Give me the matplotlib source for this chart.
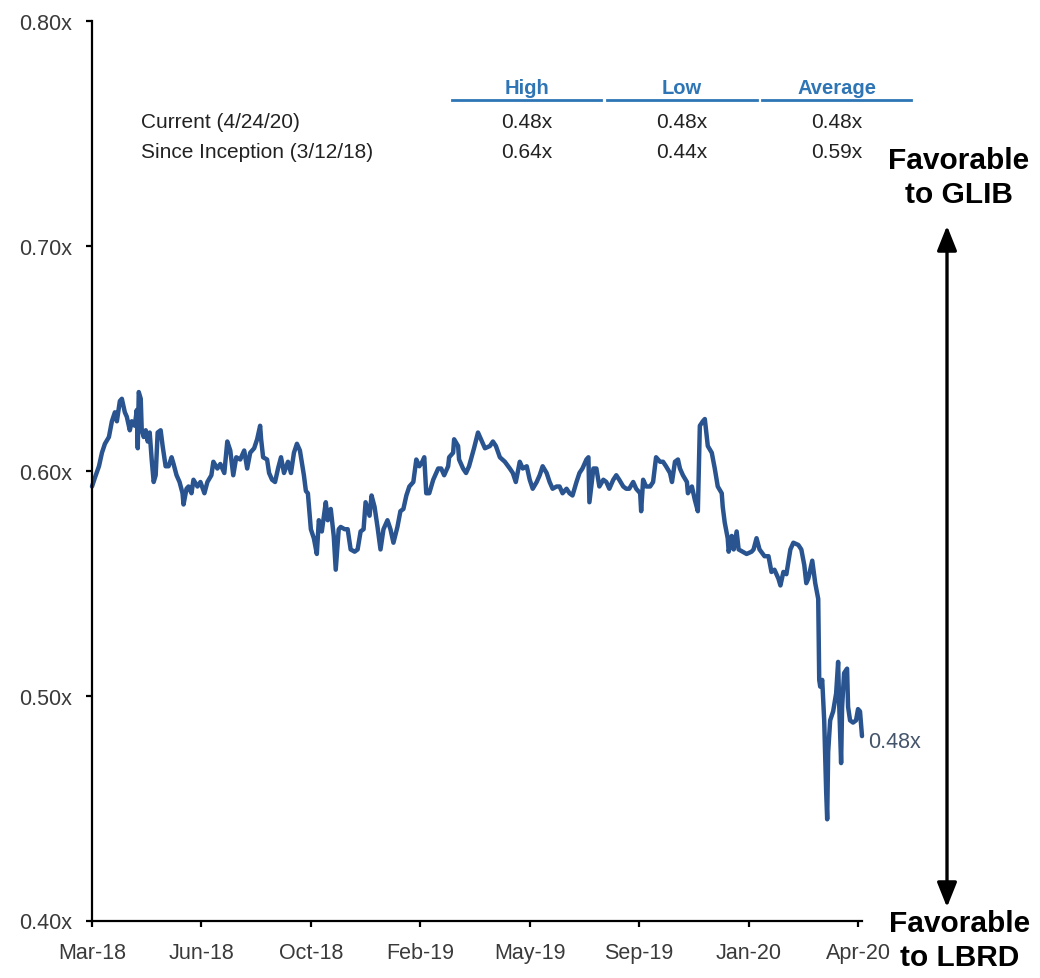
import matplotlib
matplotlib.use('Agg')
import matplotlib.pyplot as plt
from matplotlib.lines import Line2D
from matplotlib.patches import FancyArrowPatch
from matplotlib.ticker import FixedLocator, FixedFormatter
import pandas as pd

# ---------------- data ----------------
start_date = '2018-03-12'
end_date = '2020-04-24'

day_offset = [
    0, 3, 7, 10, 13, 17, 20, 23, 25, 28, 30, 33, 35, 38, 40, 43, 45, 46, 47, 49,
    50, 52, 54, 56, 58, 60, 62, 64, 66, 69, 71, 74, 77, 80, 82, 85, 88, 91, 92, 95,
    97, 100, 102, 106, 109, 113, 116, 120, 122, 126, 129, 133, 136, 139, 142, 145, 149, 153, 156, 159,
    163, 166,
    169, 170, 172, 176, 178, 181, 184, 187, 190, 193, 197, 200, 203, 206, 209, 213, 215, 217, 220, 223,
    226, 228, 231, 235, 237, 240, 243, 245, 248, 250, 254, 257, 260, 264, 267, 270, 273, 275, 279, 281,
    284, 287, 290, 293, 297, 300, 303, 307, 310, 313, 316, 319, 323, 326, 329, 332,
    334, 336, 339, 343, 348, 351, 354, 358, 359, 363, 364, 368, 369, 373, 376, 379, 384, 388, 391, 395,
    400, 403, 406, 410, 415, 420, 423, 426, 430, 433, 437, 440, 443, 447, 450, 453, 457, 460, 463, 467,
    470, 473, 477, 480, 483, 487, 490, 493, 497, 499, 500, 504, 507, 510, 514, 517, 520, 524, 527, 530,
    534, 537, 540, 544, 547, 551, 552, 554, 557, 561, 564, 567, 571, 574, 577, 581, 583, 586, 589, 591,
    594, 598, 599, 603, 606, 609, 611, 614, 616, 619, 623, 626, 629, 633, 634, 636, 639, 640, 643, 645,
    648, 650, 654, 658, 663,
    665, 668, 671, 676, 680, 683, 686, 690, 692, 695, 698, 702, 705, 710, 713, 716, 718, 720, 722, 724,
    727, 730, 731, 732, 734, 736, 738, 739, 740, 742, 745, 748, 750, 751, 753, 754, 756, 759, 760, 762,
    765, 768, 770, 772, 774,
]

ratio = [
    0.593, 0.597, 0.602, 0.608, 0.612, 0.615, 0.622, 0.626, 0.622, 0.631, 0.632, 0.626, 0.624, 0.618, 0.622, 0.620, 0.627, 0.610, 0.635, 0.632,
    0.618, 0.615, 0.618, 0.613, 0.617, 0.605, 0.595, 0.598, 0.617, 0.618, 0.611, 0.602, 0.602, 0.606, 0.603, 0.598, 0.595, 0.590, 0.585, 0.592,
    0.593, 0.590, 0.596, 0.593, 0.595, 0.590, 0.595, 0.598, 0.604, 0.601, 0.603, 0.599, 0.613, 0.609, 0.598, 0.606, 0.605, 0.609, 0.601, 0.608,
    0.610, 0.614,
    0.620, 0.614, 0.606, 0.605, 0.599, 0.596, 0.595, 0.601, 0.606, 0.599, 0.604, 0.599, 0.608, 0.612, 0.609, 0.598, 0.591, 0.590, 0.574, 0.570,
    0.563, 0.578, 0.573, 0.586, 0.578, 0.583, 0.571, 0.556, 0.574, 0.575, 0.574, 0.574, 0.565, 0.564, 0.565, 0.573, 0.574, 0.586, 0.580, 0.589,
    0.584, 0.575, 0.565, 0.574, 0.578, 0.574, 0.568, 0.575, 0.582, 0.583, 0.589, 0.593, 0.595, 0.605, 0.602, 0.604,
    0.606, 0.590, 0.590, 0.596, 0.601, 0.601, 0.598, 0.602, 0.606, 0.608, 0.614, 0.611, 0.605, 0.601, 0.599, 0.602, 0.610, 0.617, 0.614, 0.610,
    0.611, 0.613, 0.611, 0.606, 0.604, 0.601, 0.599, 0.595, 0.604, 0.601, 0.602, 0.596, 0.592, 0.595, 0.598, 0.602, 0.599, 0.595, 0.592, 0.593,
    0.593, 0.590, 0.592, 0.590, 0.589, 0.595, 0.599, 0.601, 0.605, 0.606, 0.586, 0.601, 0.601, 0.593, 0.596, 0.595, 0.592, 0.596, 0.598, 0.596,
    0.593, 0.592, 0.592, 0.595, 0.592, 0.590, 0.582, 0.596, 0.593, 0.593, 0.595, 0.606, 0.604, 0.604, 0.602, 0.599, 0.595, 0.604, 0.605, 0.601,
    0.598, 0.595, 0.590, 0.593, 0.587, 0.582, 0.620, 0.622, 0.623, 0.611, 0.608, 0.601, 0.593, 0.590, 0.584, 0.577, 0.570, 0.564, 0.571, 0.565,
    0.573, 0.565, 0.564, 0.563, 0.564,
    0.565, 0.570, 0.565, 0.562, 0.562, 0.555, 0.556, 0.552, 0.549, 0.555, 0.554, 0.565, 0.568, 0.567, 0.565, 0.558, 0.550, 0.552, 0.556, 0.560,
    0.550, 0.543, 0.507, 0.504, 0.507, 0.489, 0.457, 0.445, 0.475, 0.489, 0.493, 0.501, 0.515, 0.497, 0.470, 0.495, 0.510, 0.512, 0.495, 0.489,
    0.488, 0.489, 0.494, 0.493, 0.482,
]

y_ticks = [0.40, 0.50, 0.60, 0.70, 0.80]
y_tick_labels = ['0.40x', '0.50x', '0.60x', '0.70x', '0.80x']
x_tick_dates = ['2018-03-12', '2018-06-30', '2018-10-18', '2019-02-05',
                '2019-05-26', '2019-09-13', '2020-01-01', '2020-04-20']
x_tick_labels = ['Mar-18', 'Jun-18', 'Oct-18', 'Feb-19', 'May-19', 'Sep-19', 'Jan-20', 'Apr-20']

table_columns = ['High', 'Low', 'Average']
table_rows = ['Current (4/24/20)', 'Since Inception (3/12/18)']
table_values = [['0.48x', '0.48x', '0.48x'],
                ['0.64x', '0.44x', '0.59x']]
current_label = '0.48x'
top_label = 'Favorable\nto GLIB'
bottom_label = 'Favorable\nto LBRD'

# ---------------- style ----------------
plt.rcParams['font.family'] = ['Liberation Sans', 'DejaVu Sans']
LINE_COLOR = '#29548F'
HEAD_COLOR = '#2E75B6'
TEXT_COLOR = '#3a3a3a'

W, H = 1040, 979
fig = plt.figure(figsize=(W / 100, H / 100), dpi=100)


def fx(x):
    return x / W


def fy(y):
    return 1 - y / H


ax = fig.add_axes([fx(92), fy(921.5), fx(862) - fx(92), fy(22) - fy(921.5)])

dates = pd.Timestamp(start_date) + pd.to_timedelta(day_offset, unit='D')
ax.plot(dates, ratio, color=LINE_COLOR, lw=3.2, solid_joinstyle='round',
        solid_capstyle='round', clip_on=False)

ax.set_xlim(pd.Timestamp(start_date), pd.Timestamp(end_date))
ax.set_ylim(y_ticks[0], y_ticks[-1])

ax.yaxis.set_major_locator(FixedLocator(y_ticks))
ax.yaxis.set_major_formatter(FixedFormatter(y_tick_labels))
ax.set_xticks(pd.to_datetime(x_tick_dates))
ax.set_xticklabels(x_tick_labels)

for s in ['top', 'right']:
    ax.spines[s].set_visible(False)
for s in ['left', 'bottom']:
    ax.spines[s].set_linewidth(1.6)
    ax.spines[s].set_color('black')

ax.tick_params(axis='both', direction='out', length=4.5, width=1.6, colors='black',
               labelsize=15.5, labelcolor=TEXT_COLOR)
ax.tick_params(axis='y', pad=10)
ax.tick_params(axis='x', pad=11)

# end label
fig.text(fx(868), fy(743), current_label, ha='left', va='center', fontsize=15.5, color='#44546A')

# summary table
col_centers = [527, 682, 837]
col_lines = [(452, 601), (607, 757), (762, 911)]
for name, cx, (x0, x1) in zip(table_columns, col_centers, col_lines):
    fig.text(fx(cx), fy(88), name, ha='center', va='center', fontsize=14.5,
             fontweight='bold', color=HEAD_COLOR)
    fig.add_artist(Line2D([fx(x0), fx(x1)], [fy(101), fy(101)], transform=fig.transFigure,
                          color=HEAD_COLOR, lw=2))
row_y = [122, 152]
for rname, ry, vals in zip(table_rows, row_y, table_values):
    fig.text(fx(141), fy(ry), rname, ha='left', va='center', fontsize=15, color='#222222')
    for v, cx in zip(vals, col_centers):
        fig.text(fx(cx), fy(ry), v, ha='center', va='center', fontsize=15, color='#222222')

# favorability arrow and labels
fig.add_artist(FancyArrowPatch((fx(947), fy(911)), (fx(947), fy(224)), transform=fig.transFigure,
                               arrowstyle='<|-|>,head_length=0.75,head_width=0.3',
                               mutation_scale=20, lw=2.4, color='black'))
fig.text(fx(959), fy(178), top_label, ha='center', va='center', fontsize=21.5,
         fontweight='bold', color='black', linespacing=1.28)
fig.text(fx(960), fy(941), bottom_label, ha='center', va='center', fontsize=21.5,
         fontweight='bold', color='black', linespacing=1.28)

fig.savefig('out.png', dpi=100)
